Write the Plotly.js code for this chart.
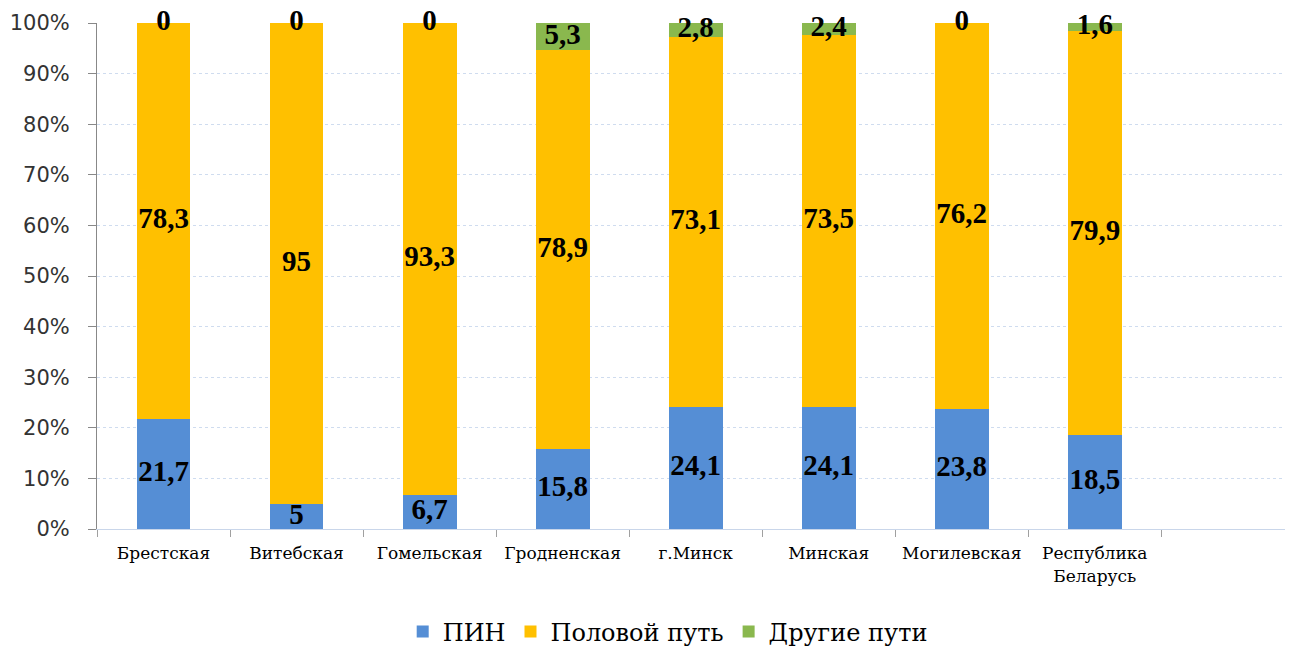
<!DOCTYPE html>
<html><head><meta charset="utf-8">
<script src="https://cdn.plot.ly/plotly-3.0.1.min.js"></script>
<style>html,body{margin:0;padding:0;background:#fff}#chart{width:1289px;height:648px}</style>
</head><body><div id="chart"></div>
<script>
const categories = ["Брестская","Витебская","Гомельская","Гродненская","г.Минск","Минская","Могилевская","Республика<br>Беларусь"];
const pin = [21.7, 5, 6.7, 15.8, 24.1, 24.1, 23.8, 18.5];
const sexual = [78.3, 95, 93.3, 78.9, 73.1, 73.5, 76.2, 79.9];
const other = [0, 0, 0, 5.3, 2.8, 2.4, 0, 1.6];
const seriesNames = ["ПИН","Половой путь","Другие пути"];
const colors = ["#558ED5","#FFC000","#8AB84E"];
const yTickVals = [0,10,20,30,40,50,60,70,80,90,100];

const xs = categories.map((c,i)=>i);
const fmt = v => String(v).replace('.', ',');
const serif = "Liberation Serif";
const wideSerif = "DejaVu Serif";

const series = [pin, sexual, other];
const traces = series.map((vals,k)=>({
  type:'bar', x:xs, y:vals, name:seriesNames[k],
  marker:{color:colors[k]}, hoverinfo:'skip'
}));
series.forEach((vals,k)=>{
  const ys = vals.map((v,i)=>{
    let base = 0; for(let j=0;j<k;j++) base += series[j][i];
    return base + v/2;
  });
  traces.push({type:'scatter', mode:'text', x:xs, y:ys, text:vals.map(fmt),
    textfont:{family:serif, size:29, color:'#000', weight:'bold'},
    textposition:'middle center', showlegend:false, hoverinfo:'skip', cliponaxis:false});
});

const layout = {
  width:1289, height:648,
  font:{family:wideSerif, color:'#000'},
  margin:{l:97, r:4, t:23, b:119},
  barmode:'stack', bargap:0.595,
  paper_bgcolor:'#fff', plot_bgcolor:'#fff',
  showlegend:true,
  legend:{orientation:'h', x:0.518, xref:'container', xanchor:'center', y:0.025, yref:'container', yanchor:'middle',
    font:{family:wideSerif, size:24, color:'#000'}, traceorder:'normal', itemsizing:'constant'},
  xaxis:{range:[-0.5, 8.43], tickvals:xs, ticktext:categories, ticks:'',
    tickfont:{family:wideSerif, size:17, color:'#000'}, ticklabelstandoff:9,
    showgrid:false, zeroline:false, showline:true, linecolor:'#C9D6EA', linewidth:1,
    minor:{tick0:0.5, dtick:1, ticks:'outside', ticklen:7, tickcolor:'#A0A0A0', showgrid:false},
    automargin:false, fixedrange:true},
  yaxis:{range:[0,100], tickvals:yTickVals, ticktext:yTickVals.map(v=>v+'%'),
    tickfont:{family:'DejaVu Sans', size:21, color:'#333'},
    ticks:'outside', ticklen:8, tickcolor:'#888', showline:true, linecolor:'#888', linewidth:1,
    ticklabelstandoff:14,
    showgrid:true, gridcolor:'#CFDCEF', griddash:'dot', zeroline:false, automargin:false, fixedrange:true}
};
Plotly.newPlot('chart', traces, layout, {displayModeBar:false, staticPlot:true});
</script></body></html>
